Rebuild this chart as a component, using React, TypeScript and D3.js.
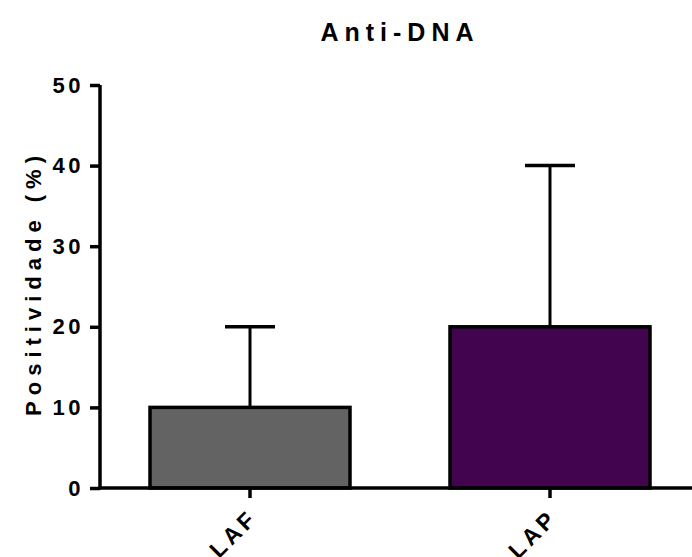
import React, { useEffect, useRef } from "react";
import * as d3 from "d3";

const categories = ["LAF", "LAP"];
const means = [10, 20];
const errors = [10, 20];
const colors = ["#636363", "#42044F"];
const yTicks = [0, 10, 20, 30, 40, 50];

export default function App() {
  const ref = useRef<SVGSVGElement>(null);
  useEffect(() => {
    const svg = d3.select(ref.current);
    svg.selectAll("*").remove();
    const x0 = 100, x1 = 700, yBase = 488, yTop = 85;
    const y = d3.scaleLinear().domain([0, 50]).range([yBase, yTop]);
    const x = d3.scaleBand().domain(categories).range([x0, x0 + 600]).paddingInner(1 / 3).paddingOuter(1 / 6);
    const font = "Liberation Sans, Arial, sans-serif";

    const g = svg.append("g");
    categories.forEach((c, i) => {
      const bx = x(c)!;
      const bw = x.bandwidth();
      const cx = bx + bw / 2;
      g.append("line").attr("x1", cx).attr("x2", cx).attr("y1", y(means[i])).attr("y2", y(means[i] + errors[i]))
        .attr("stroke", "#000").attr("stroke-width", 3);
      g.append("line").attr("x1", cx - 25).attr("x2", cx + 25).attr("y1", y(means[i] + errors[i])).attr("y2", y(means[i] + errors[i]))
        .attr("stroke", "#000").attr("stroke-width", 3.5);
      g.append("rect").attr("x", bx).attr("width", bw).attr("y", y(means[i])).attr("height", yBase - y(means[i]))
        .attr("fill", colors[i]).attr("stroke", "#000").attr("stroke-width", 3.5);
    });

    const yAxis = svg.append("g").attr("transform", `translate(${x0},0)`)
      .call(d3.axisLeft(y).tickValues(yTicks).tickSize(10).tickPadding(6).tickFormat(d3.format("d")));
    yAxis.select(".domain").attr("stroke-width", 3.5).attr("d", `M0,${yTop}V${yBase + 1.5}`);
    yAxis.selectAll(".tick line").attr("stroke-width", 3.5);
    yAxis.selectAll(".tick text").attr("font-family", font).attr("font-size", 22).attr("font-weight", "bold")
      .attr("letter-spacing", "3.5px").attr("fill", "#000");

    const xAxis = svg.append("g").attr("transform", `translate(0,${yBase})`)
      .call(d3.axisBottom(x).tickSize(10).tickFormat(() => ""));
    xAxis.select(".domain").attr("stroke-width", 3.5).attr("d", `M${x0 - 1.5},0H${x1}`);
    xAxis.selectAll(".tick line").attr("stroke-width", 3.5);

    categories.forEach((c) => {
      const cx = x(c)! + x.bandwidth() / 2;
      svg.append("text").attr("transform", `translate(${cx + 9},${yBase + 31}) rotate(-45)`)
        .attr("text-anchor", "end").attr("font-family", font).attr("font-size", 23).attr("font-weight", "bold")
        .attr("letter-spacing", "4px").text(c);
    });

    svg.append("text").attr("x", 400).attr("y", 41).attr("text-anchor", "middle").attr("font-family", font)
      .attr("font-size", 25).attr("font-weight", "bold").attr("letter-spacing", "6px").text("Anti-DNA");
    svg.append("text").attr("transform", `translate(41,283) rotate(-90)`).attr("text-anchor", "middle")
      .attr("font-family", font).attr("font-size", 22).attr("font-weight", "bold").attr("letter-spacing", "6px")
      .text("Positividade (%)");
  }, []);
  return (
    <svg ref={ref} width={692} height={557} style={{ position: "absolute", left: 0, top: 0, background: "#fff" }} />
  );
}
